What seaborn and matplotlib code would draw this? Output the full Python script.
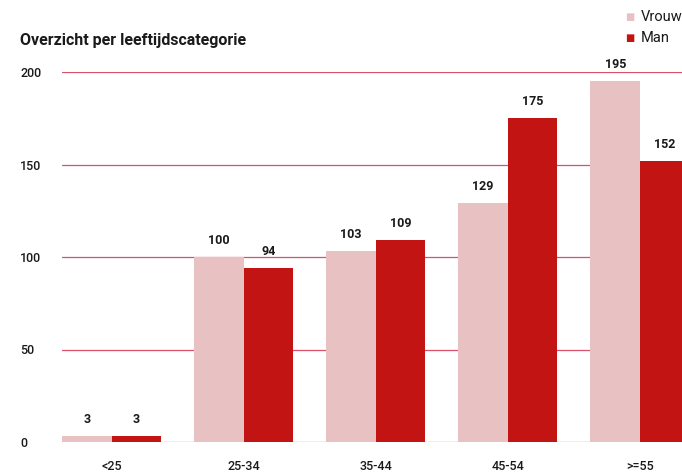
import pandas as pd
import matplotlib.pyplot as plt
import seaborn as sns

categories = ["<25", "25-34", "35-44", "45-54", ">=55"]
vrouw = [3, 100, 103, 129, 195]
man = [3, 94, 109, 175, 152]
series = ["Vrouw", "Man"]
colors = ["#e8c1c2", "#c31414"]
y_ticks = [0, 50, 100, 150, 200]

df = pd.DataFrame({
    "cat": categories * 2,
    "value": vrouw + man,
    "geslacht": ["Vrouw"] * len(vrouw) + ["Man"] * len(man),
})

sns.set_style("white")
plt.rcParams["font.family"] = ["Roboto", "DejaVu Sans"]

fig = plt.figure(figsize=(6.82, 4.74), dpi=100)
ax = fig.add_axes([62 / 682, 32 / 474, 620 / 682, 370 / 474])

sns.barplot(data=df, x="cat", y="value", hue="geslacht", order=categories,
            hue_order=series, palette=colors, width=0.75, ax=ax,
            legend=False, saturation=1, linewidth=0, edgecolor="none",
            zorder=3)

for cont in ax.containers:
    for bar in cont:
        h = bar.get_height()
        ax.annotate(f"{int(h)}", (bar.get_x() + bar.get_width() / 2, h),
                    xytext=(0, 12), textcoords="offset points",
                    ha="center", va="center", fontsize=9, fontweight="bold",
                    color="#1a1a1a")

ax.set_xlim(-0.375, 4.318)
ax.set_ylim(0, 200)
ax.set_yticks(y_ticks)
ax.yaxis.grid(True, color="#d9506a", linewidth=0.9, zorder=0)
ax.set_axisbelow(True)
for s in ax.spines.values():
    s.set_visible(False)
ax.set_xlabel("")
ax.set_ylabel("")
ax.tick_params(axis="x", length=0, pad=13, labelsize=9, labelcolor="#1a1a1a")
ax.tick_params(axis="y", length=0, pad=30, labelsize=9, labelcolor="#1a1a1a")
for lab in ax.get_yticklabels():
    lab.set_horizontalalignment("left")
    lab.set_fontweight("medium")
for lab in ax.get_xticklabels():
    lab.set_fontweight("medium")

fig.text(20 / 682, 1 - 40 / 474, "Overzicht per leeftijdscategorie",
         fontsize=11.5, fontweight="bold", color="#1a1a1a", va="center")

for i, (name, col) in enumerate(zip(series, colors)):
    yy = 1 - (17 + 21 * i) / 474
    fig.text(630 / 682, yy, "\u25a0", color=col, fontsize=7, ha="center",
             va="center", family="DejaVu Sans")
    fig.text(641 / 682, yy, name, fontsize=10.5, color="#1a1a1a", va="center")

fig.savefig("out.png", dpi=100)
